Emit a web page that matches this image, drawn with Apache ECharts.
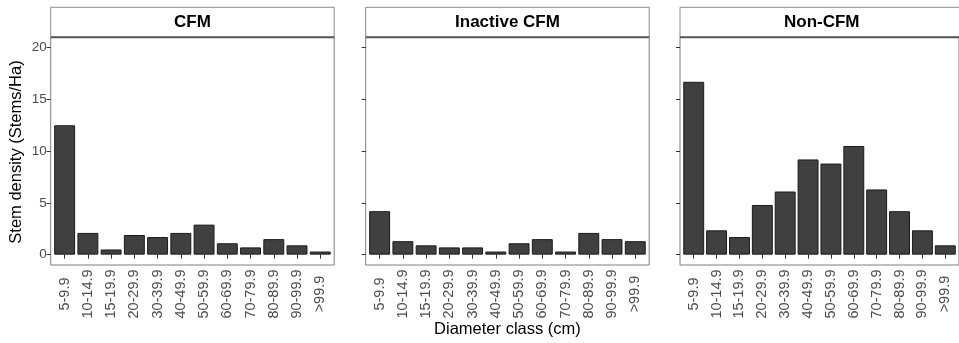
<!DOCTYPE html>
<html>
<head>
<meta charset="utf-8">
<script src="https://cdn.jsdelivr.net/npm/echarts@6/dist/echarts.min.js"></script>
<style>
html,body{margin:0;padding:0;background:#fff;}
#chart{width:959px;height:343px;}
</style>
</head>
<body>
<div id="chart"></div>
<script>
// ---- data ----
const categories = ['5-9.9','10-14.9','15-19.9','20-29.9','30-39.9','40-49.9','50-59.9','60-69.9','70-79.9','80-89.9','90-99.9','>99.9'];
const panelTitles = ['CFM','Inactive CFM','Non-CFM'];
const cfmValues = [12.5, 2.1, 0.5, 1.9, 1.7, 2.1, 2.9, 1.1, 0.7, 1.5, 0.9, 0.3];
const inactiveCfmValues = [4.2, 1.3, 0.9, 0.7, 0.7, 0.3, 1.1, 1.5, 0.3, 2.1, 1.5, 1.3];
const nonCfmValues = [16.7, 2.35, 1.7, 4.8, 6.1, 9.2, 8.8, 10.5, 6.3, 4.2, 2.35, 0.9];
const yTickValues = [0, 5, 10, 15, 20];
const yAxisTitle = 'Stem density (Stems/Ha)';
const xAxisTitle = 'Diameter class (cm)';

// ---- layout ----
const FONT = 'Liberation Sans, Arial, Helvetica, sans-serif';
const panelLefts = [50.7, 365.7, 680];
const panelWidth = 283.5;
const panelTop = 37.3;
const panelHeight = 227.7;
const stripTop = 7.3;
const stripHeight = 30;
const xMin = 0.4, xMax = categories.length + 0.6;
const barPx = 0.9 * panelWidth / (xMax - xMin);

const seriesValues = [cfmValues, inactiveCfmValues, nonCfmValues];
const catIndexValues = categories.map((c, i) => i + 1);

const chart = echarts.init(document.getElementById('chart'), null, {renderer: 'canvas'});

const grids = [], xAxes = [], yAxes = [], series = [], graphics = [];
panelLefts.forEach((left, p) => {
  grids.push({
    left: left, top: panelTop, width: panelWidth, height: panelHeight,
    show: true, backgroundColor: '#fff', borderColor: '#7f7f7f', borderWidth: 1,
    containLabel: false
  });
  xAxes.push({
    type: 'value', gridIndex: p, min: xMin, max: xMax,
    axisLine: {show: false},
    splitLine: {show: false},
    axisTick: {show: true, customValues: catIndexValues, length: 4, lineStyle: {color: '#333', width: 1}},
    axisLabel: {
      show: true, customValues: catIndexValues, rotate: 90, margin: 29,
      align: 'center', verticalAlign: 'middle',
      color: '#4d4d4d', fontSize: 14.5, fontFamily: FONT,
      formatter: v => categories[Math.round(v) - 1] || ''
    }
  });
  yAxes.push({
    type: 'value', gridIndex: p, min: -1, max: 21,
    axisLine: {show: false},
    splitLine: {show: false},
    axisTick: {show: true, customValues: yTickValues, length: 4, lineStyle: {color: '#333', width: 1}},
    axisLabel: {
      show: p === 0, customValues: yTickValues, margin: 4,
      color: '#4d4d4d', fontSize: 13.5, fontFamily: FONT
    }
  });
  series.push({
    type: 'bar', xAxisIndex: p, yAxisIndex: p,
    data: categories.map((c, i) => [i + 1, seriesValues[p][i]]),
    barWidth: barPx,
    itemStyle: {color: '#404040', borderColor: '#1a1a1a', borderWidth: 1},
    emphasis: {disabled: true},
    animation: false
  });
  // strip
  graphics.push({
    type: 'rect', silent: true, z: 10,
    shape: {x: left, y: stripTop, width: panelWidth, height: stripHeight},
    style: {fill: '#fff', stroke: '#8a8a8a', lineWidth: 1}
  });
  graphics.push({
    type: 'text', silent: true, z: 11,
    x: left + panelWidth / 2, y: stripTop + stripHeight / 2 + 0.5,
    style: {text: panelTitles[p], fill: '#000', font: 'bold 17px ' + FONT, align: 'center', verticalAlign: 'middle'}
  });
  graphics.push({
    type: 'line', silent: true, z: 12,
    shape: {x1: left, y1: panelTop, x2: left + panelWidth, y2: panelTop},
    style: {stroke: '#555', lineWidth: 2}
  });
});

graphics.push({
  type: 'text', silent: true,
  x: 16, y: 152, rotation: Math.PI / 2,
  style: {text: yAxisTitle, fill: '#000', font: '16.5px ' + FONT, align: 'center', verticalAlign: 'middle'}
});
graphics.push({
  type: 'text', silent: true,
  x: panelLefts[1] + panelWidth / 2, y: 329,
  style: {text: xAxisTitle, fill: '#000', font: '16.5px ' + FONT, align: 'center', verticalAlign: 'middle'}
});

chart.setOption({
  backgroundColor: '#fff',
  animation: false,
  grid: grids,
  xAxis: xAxes,
  yAxis: yAxes,
  series: series,
  graphic: graphics
});
</script>
</body>
</html>
